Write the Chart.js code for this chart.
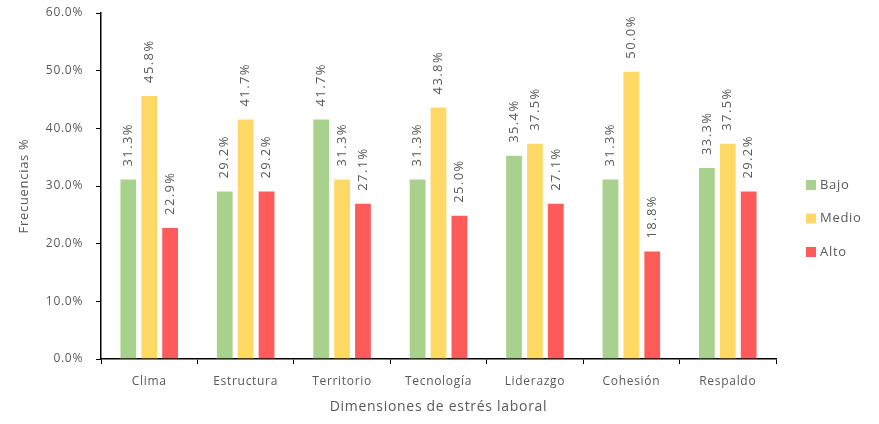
<!DOCTYPE html>
<html>
<head>
<meta charset="utf-8">
<script src="https://cdn.jsdelivr.net/npm/chart.js@4/dist/chart.umd.min.js"></script>
<style>
  html, body { margin: 0; padding: 0; background: #ffffff; }
  #wrap { width: 879px; height: 424px; position: relative; }
</style>
</head>
<body>
<div id="wrap"><canvas id="c"></canvas></div>
<script>
// Stress dimensions and the share (%) of each level
const dimensiones = ['Clima', 'Estructura', 'Territorio', 'Tecnología', 'Liderazgo', 'Cohesión', 'Respaldo'];
const bajo  = [31.3, 29.2, 41.7, 31.3, 35.4, 31.3, 33.3];
const medio = [45.8, 41.7, 31.3, 43.8, 37.5, 50.0, 37.5];
const alto  = [22.9, 29.2, 27.1, 25.0, 27.1, 18.8, 29.2];
const yTicks = [0, 10, 20, 30, 40, 50, 60];

const FONT = '"Open Sans", sans-serif';
const GREY = '#595959';

// Slightly open letter spacing for all canvas text
const spacing = {
  id: 'spacing',
  beforeDraw(chart) { chart.ctx.letterSpacing = '0.7px'; }
};

// Rotated value labels above each bar
const valueLabels = {
  id: 'valueLabels',
  afterDatasetsDraw(chart) {
    const ctx = chart.ctx;
    ctx.save();
    ctx.font = '13px ' + FONT;
    ctx.letterSpacing = '1.4px';
    ctx.fillStyle = GREY;
    ctx.textAlign = 'left';
    ctx.textBaseline = 'middle';
    chart.data.datasets.forEach((ds, i) => {
      const meta = chart.getDatasetMeta(i);
      meta.data.forEach((bar, j) => {
        ctx.save();
        ctx.translate(bar.x, bar.y - 12);
        ctx.rotate(-Math.PI / 2);
        ctx.fillText(ds.data[j].toFixed(1) + '%', 0, 0);
        ctx.restore();
      });
    });
    ctx.restore();
  }
};

// Legend on the right, stacked vertically
const sideLegend = {
  id: 'sideLegend',
  afterDraw(chart) {
    const ctx = chart.ctx;
    const x = chart.chartArea.right + 30;
    const y0 = 185, step = 33.5;
    ctx.save();
    ctx.font = '13px ' + FONT;
    ctx.textBaseline = 'middle';
    ctx.textAlign = 'left';
    chart.data.datasets.forEach((ds, i) => {
      const y = y0 + i * step;
      ctx.fillStyle = ds.backgroundColor;
      ctx.fillRect(x, y - 5, 10, 10);
      ctx.fillStyle = GREY;
      ctx.fillText(ds.label, x + 14, y);
    });
    ctx.restore();
  }
};

new Chart(document.getElementById('c'), {
  type: 'bar',
  data: {
    labels: dimensiones,
    datasets: [
      { label: 'Bajo',  data: bajo,  backgroundColor: '#A9D18E' },
      { label: 'Medio', data: medio, backgroundColor: '#FFD966' },
      { label: 'Alto',  data: alto,  backgroundColor: '#FF5B5B' }
    ]
  },
  options: {
    responsive: true,
    maintainAspectRatio: false,
    animation: false,
    devicePixelRatio: 1,
    layout: { padding: { top: 13, right: 103, left: 16, bottom: 0 } },
    datasets: {
      bar: {
        categoryPercentage: 0.65,
        barPercentage: 0.85,
        borderWidth: 1,
        borderColor: 'rgba(255,255,255,0.6)'
      }
    },
    plugins: {
      legend: { display: false },
      tooltip: { enabled: false }
    },
    scales: {
      x: {
        offset: true,
        grid: {
          display: true,
          offset: true,
          drawOnChartArea: false,
          drawTicks: true,
          tickLength: 5,
          color: '#000000'
        },
        border: { display: true, color: '#000000', width: 1.5 },
        ticks: { color: GREY, font: { family: FONT, size: 12 }, padding: 10 },
        title: {
          display: true,
          text: 'Dimensiones de estrés laboral',
          color: GREY,
          font: { family: FONT, size: 14 },
          padding: { top: 4, bottom: 9 }
        },
        afterFit(scale) {
          scale.height = 65;
          scale.paddingLeft = 0;
          scale.paddingRight = 0;
        }
      },
      y: {
        min: 0,
        max: 60,
        afterBuildTicks(scale) { scale.ticks = yTicks.map(v => ({ value: v })); },
        grid: {
          display: true,
          drawOnChartArea: false,
          drawTicks: true,
          tickLength: 5,
          color: '#000000'
        },
        border: { display: true, color: '#000000', width: 1.5 },
        ticks: {
          color: GREY,
          font: { family: FONT, size: 12 },
          padding: 13,
          callback: v => v.toFixed(1) + '%'
        },
        title: {
          display: true,
          text: 'Frecuencias %',
          color: GREY,
          font: { family: FONT, size: 13 },
          padding: { top: 0, bottom: 0 }
        },
        afterFit(scale) {
          scale.width = 85;
          scale.paddingTop = 0;
          scale.paddingBottom = 0;
        }
      }
    }
  },
  plugins: [spacing, valueLabels, sideLegend]
});
</script>
</body>
</html>
